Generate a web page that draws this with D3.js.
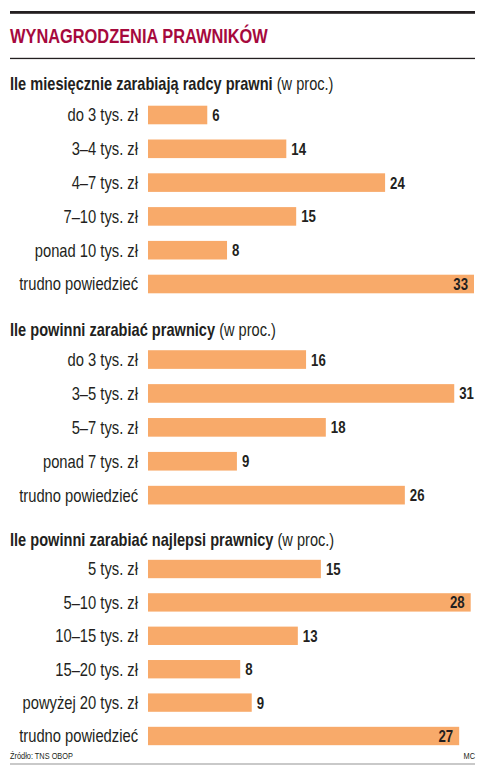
<!DOCTYPE html>
<html>
<head>
<meta charset="utf-8">
<script src="https://cdn.jsdelivr.net/npm/d3@7"></script>
<style>
  body { margin: 0; background: #fff; }
  svg text { font-family: "Liberation Sans", Arial, sans-serif; fill: #231f20; }
</style>
</head>
<body>
<div id="chart"></div>
<script>
// Chart data
const title = "WYNAGRODZENIA PRAWNIKÓW";
const source = "Źródło: TNS OBOP";
const author = "MC";

const earnTitle = "Ile miesięcznie zarabiają radcy prawni";
const earnLabels = ["do 3 tys. zł", "3–4 tys. zł", "4–7 tys. zł", "7–10 tys. zł", "ponad 10 tys. zł", "trudno powiedzieć"];
const earnValues = [6, 14, 24, 15, 8, 33];

const shouldTitle = "Ile powinni zarabiać prawnicy";
const shouldLabels = ["do 3 tys. zł", "3–5 tys. zł", "5–7 tys. zł", "ponad 7 tys. zł", "trudno powiedzieć"];
const shouldValues = [16, 31, 18, 9, 26];

const bestTitle = "Ile powinni zarabiać najlepsi prawnicy";
const bestLabels = ["5 tys. zł", "5–10 tys. zł", "10–15 tys. zł", "15–20 tys. zł", "powyżej 20 tys. zł", "trudno powiedzieć"];
const bestValues = [15, 28, 13, 8, 9, 27];

const unitNote = " (w proc.)";

// Colours
const barColor = '#f8aa6a';
const titleColor = '#a6093d';

const W = 483, H = 772;
const left = 10, right = 475;
const barX = 148;
const narrow = 0.82;   // no condensed face installed, squeeze a regular one

const svg = d3.select("#chart").append("svg")
    .attr("width", W)
    .attr("height", H);

// text squeezed horizontally around its anchor point
function squeeze(x, y, sx) {
    return `translate(${x},${y}) scale(${sx || narrow},1)`;
}

// Top rule, title, thin rule
svg.append("rect").attr("x", left).attr("y", 11).attr("width", right - left).attr("height", 2.8).attr("fill", "#231f20");
svg.append("text")
    .attr("transform", squeeze(left, 43))
    .attr("font-size", 20).attr("font-weight", "bold")
    .style("fill", titleColor)
    .text(title);
svg.append("rect").attr("x", left).attr("y", 57.8).attr("width", right - left).attr("height", 1.3).attr("fill", "#231f20");

// Sections: header baseline, band range, value scale
const sections = [
    { name: earnTitle, labels: earnLabels, values: earnValues, head: 90, top: 98.1, step: 33.8, max: 33, end: 474 },
    { name: shouldTitle, labels: shouldLabels, values: shouldValues, head: 336, top: 342.6, step: 33.9, max: 33, end: 474 },
    { name: bestTitle, labels: bestLabels, values: bestValues, head: 546, top: 552.3, step: 33.4, max: 28, end: 470.7 }
];

sections.forEach(sec => {
    const g = svg.append("g");

    const head = g.append("text")
        .attr("transform", squeeze(left, sec.head))
        .attr("font-size", 17.8);
    head.append("tspan").attr("font-weight", "bold").text(sec.name);
    head.append("tspan").text(unitNote);

    const x = d3.scaleLinear().domain([0, sec.max]).range([barX, sec.end]);
    const y = d3.scaleBand()
        .domain(sec.labels)
        .range([sec.top, sec.top + sec.labels.length * sec.step])
        .paddingInner(0.45)
        .paddingOuter(0.225);

    const rows = sec.labels.map((l, i) => ({ label: l, value: sec.values[i] }));

    g.selectAll(".bar")
        .data(rows)
        .join("rect")
        .attr("class", "bar")
        .attr("x", x(0))
        .attr("y", d => y(d.label))
        .attr("width", d => x(d.value) - x(0))
        .attr("height", y.bandwidth())
        .attr("fill", barColor);

    g.selectAll(".cat")
        .data(rows)
        .join("text")
        .attr("class", "cat")
        .attr("transform", d => squeeze(138, y(d.label) + y.bandwidth() / 2))
        .attr("dy", "0.36em")
        .attr("text-anchor", "end")
        .attr("font-size", 18)
        .text(d => d.label);

    // long bars carry their number inside
    const inside = d => x(d.value) > 456;
    g.selectAll(".val")
        .data(rows)
        .join("text")
        .attr("class", "val")
        .attr("transform", d => squeeze(inside(d) ? x(d.value) - 6 : x(d.value) + 5, y(d.label) + y.bandwidth() / 2, 0.8))
        .attr("dy", "0.36em")
        .attr("text-anchor", d => inside(d) ? "end" : "start")
        .attr("font-size", 16.5)
        .attr("font-weight", "bold")
        .text(d => d.value);
});

// Footer
svg.append("text").attr("transform", squeeze(left, 758.5)).attr("font-size", 9).text(source);
svg.append("text").attr("transform", squeeze(right, 758.5)).attr("font-size", 9).attr("text-anchor", "end").text(author);
svg.append("rect").attr("x", left).attr("y", 763).attr("width", right - left).attr("height", 2).attr("fill", "#c9c9c9");
</script>
</body>
</html>
